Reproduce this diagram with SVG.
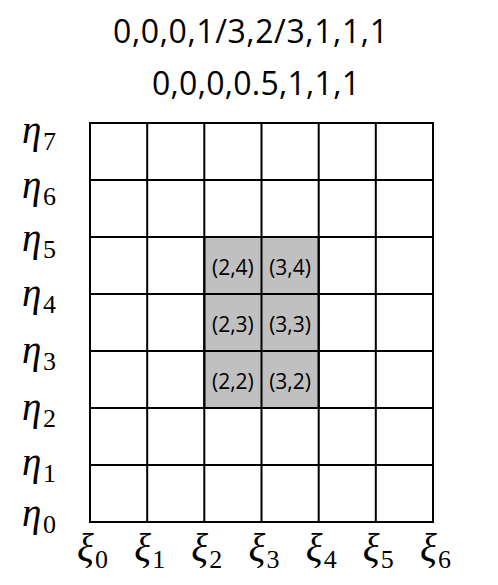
<svg xmlns="http://www.w3.org/2000/svg" width="498" height="585" viewBox="0 0 498 585">
<style>
.title{font-family:"Open Sans","Liberation Sans",sans-serif;font-size:32px;fill:#000;text-anchor:middle}
.cell{fill:#fff;stroke:#000;stroke-width:2}
.hl{fill:#c0c0c0;stroke:#000;stroke-width:2}
.lbl{font-family:"Open Sans","DejaVu Sans",sans-serif;font-size:21px;fill:#000;text-anchor:middle}
.m{font-family:"Liberation Serif","DejaVu Serif",serif;font-style:italic;font-size:39px;fill:#000}
.s{font-style:normal;font-size:26px}
</style>
<rect width="498" height="585" fill="#fff"/>
<g id="titles">
<text class="title" x="250.5" y="43" textLength="275" lengthAdjust="spacing">0,0,0,1/3,2/3,1,1,1</text>
<text class="title" x="256" y="95" textLength="208" lengthAdjust="spacing">0,0,0,0.5,1,1,1</text>
</g>
<g id="grid">
<rect class="cell" x="90" y="123" width="343" height="399"/>
<rect class="hl" x="204.3" y="237" width="114.4" height="171"/>
</g>
<g id="connectors" stroke="#000" stroke-width="2" fill="none">
<path d="M147.2 123V522M204.3 123V522M261.5 123V522M318.7 123V522M375.8 123V522"/>
<path d="M90 180H433M90 237H433M90 294H433M90 351H433M90 408H433M90 465H433"/>
</g>
<g id="cells">
<text class="lbl" x="232.9" y="274.5">(2,4)</text>
<text class="lbl" x="290.1" y="274.5">(3,4)</text>
<text class="lbl" x="232.9" y="331.5">(2,3)</text>
<text class="lbl" x="290.1" y="331.5">(3,3)</text>
<text class="lbl" x="232.9" y="388.5">(2,2)</text>
<text class="lbl" x="290.1" y="388.5">(3,2)</text>
</g>
<g id="eta-labels">
<text class="m" x="22" y="143">η<tspan class="s" x="43" y="150">7</tspan></text>
<text class="m" x="22" y="198">η<tspan class="s" x="43" y="205">6</tspan></text>
<text class="m" x="22" y="251">η<tspan class="s" x="43" y="258">5</tspan></text>
<text class="m" x="22" y="306">η<tspan class="s" x="43" y="313">4</tspan></text>
<text class="m" x="22" y="363">η<tspan class="s" x="43" y="370">3</tspan></text>
<text class="m" x="22" y="420">η<tspan class="s" x="43" y="427">2</tspan></text>
<text class="m" x="22" y="475">η<tspan class="s" x="43" y="482">1</tspan></text>
<text class="m" x="22" y="526">η<tspan class="s" x="43" y="533">0</tspan></text>
</g>
<g id="xi-labels">
<text class="m" x="77" y="561">ξ<tspan class="s" x="95" y="568">0</tspan></text>
<text class="m" x="134.2" y="561">ξ<tspan class="s" x="152.2" y="568">1</tspan></text>
<text class="m" x="191.3" y="561">ξ<tspan class="s" x="209.3" y="568">2</tspan></text>
<text class="m" x="248.5" y="561">ξ<tspan class="s" x="266.5" y="568">3</tspan></text>
<text class="m" x="305.7" y="561">ξ<tspan class="s" x="323.7" y="568">4</tspan></text>
<text class="m" x="362.8" y="561">ξ<tspan class="s" x="380.8" y="568">5</tspan></text>
<text class="m" x="420" y="561">ξ<tspan class="s" x="438" y="568">6</tspan></text>
</g>
</svg>
